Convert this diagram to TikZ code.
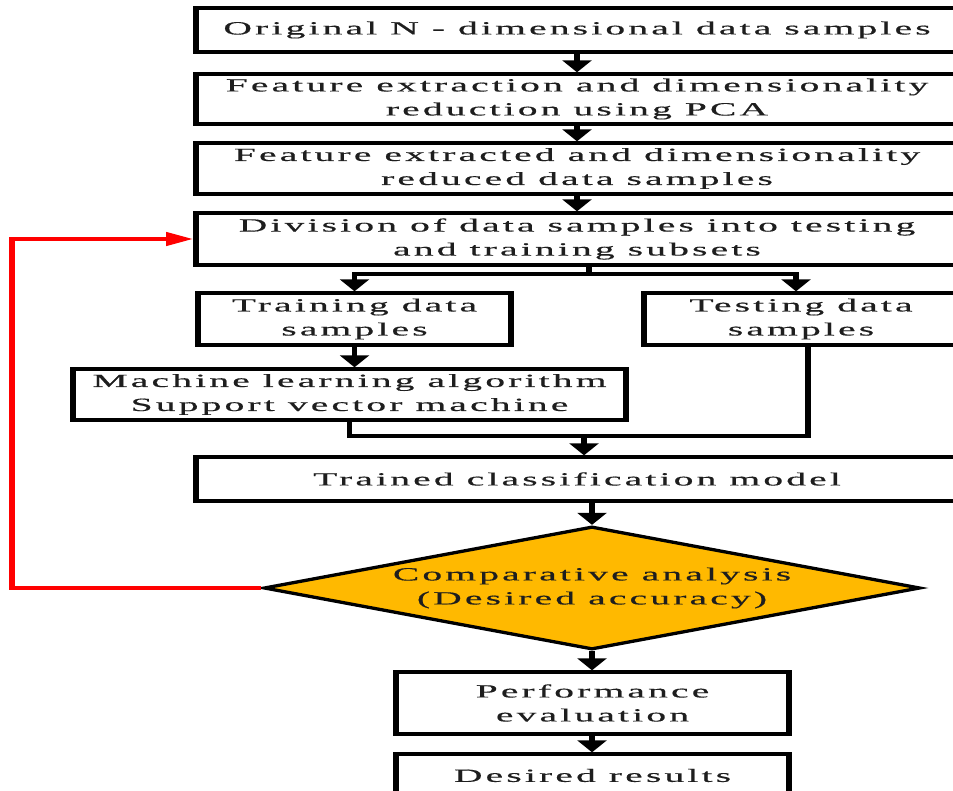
\documentclass[tikz,border=0pt]{standalone}
\usepackage{fontspec}
\setmainfont[FakeStretch=1.25, LetterSpace=10, FakeBold=0.4]{Liberation Serif}
\usetikzlibrary{arrows.meta,shapes.geometric}
\definecolor{decisionfill}{RGB}{255,185,0}
\definecolor{feedbackred}{RGB}{255,0,0}
\definecolor{ink}{RGB}{30,30,30}

\begin{document}
\begin{tikzpicture}[
  stepbox/.style={draw=black, line width=3.2pt, inner sep=0pt, align=center,
    text=ink, font=\fontsize{18.6}{24}\selectfont},
  decision/.style={diamond, draw=black, line width=3.2pt, fill=decisionfill,
    inner sep=1pt, aspect=3.14, minimum width=386.5pt, minimum height=123pt,
    align=center, text=ink, font=\fontsize{18.6}{24}\selectfont},
  link/.style={draw=black, line width=3.2pt},
  arr/.style={link, -{Triangle[width=16.5pt,length=12pt]}},
  feedback/.style={draw=feedbackred, line width=4pt,
    -{Triangle[width=13pt,length=16pt]}}
]
% page frame; the drawing below is widened by the canvas transform
\useasboundingbox (0,0) rectangle (953pt,-791pt);
\begin{scope}[transform canvas={xscale=1.7}, x={(0.588235pt,0)}, y={(0,-1pt)}]

  % process boxes
  \node[stepbox, minimum width=448.24pt, minimum height=44pt] (b1) at (577,30)
    {Original N - dimensional data samples};
  \node[stepbox, minimum width=448.24pt, minimum height=50pt] (b2) at (577,99)
    {Feature extraction and dimensionality\\reduction using PCA};
  \node[stepbox, minimum width=448.24pt, minimum height=51pt] (b3) at (577,168.5)
    {Feature extracted and dimensionality\\reduced data samples};
  \node[stepbox, minimum width=448.24pt, minimum height=52pt] (b4) at (577,239)
    {Division of data samples into testing\\and training subsets};
  \node[stepbox, minimum width=184.12pt, minimum height=52pt] (train) at (354.5,319)
    {Training data\\samples};
  \node[stepbox, minimum width=184.71pt, minimum height=52pt] (test) at (801,319)
    {Testing data\\samples};
  \node[stepbox, minimum width=325.29pt, minimum height=51pt] (ml) at (349.5,394.5)
    {Machine learning algorithm\\Support vector machine};
  \node[stepbox, minimum width=448.24pt, minimum height=44pt] (trained) at (577,479)
    {Trained classification model};
  \node[decision] (dec) at (592,588)
    {Comparative analysis\\(Desired accuracy)};
  \node[stepbox, minimum width=231.18pt, minimum height=62pt] (perf) at (592.5,703)
    {Performance\\evaluation};
  \node[stepbox, minimum width=231.18pt, minimum height=43pt] (res) at (592.5,775.5)
    {Desired results};

  % routing points
  \coordinate (split) at (589,274);
  \coordinate (testin) at (796,0);
  \coordinate (testout) at (808,0);
  \coordinate (merge) at (584,436);
  \coordinate (loopx) at (12,0);

  % main chain
  \draw[arr] (b1.south) -- (b2.north);
  \draw[arr] (b2.south) -- (b3.north);
  \draw[arr] (b3.south) -- (b4.north);

  % split into training and testing subsets
  \draw[link] (b4.south -| split) -- (split);
  \draw[arr] (split) -| (train.north);
  \draw[arr] (split) -| (test.north -| testin);
  \draw[arr] (train.south) -- (train.south |- ml.north);

  % merge into the trained model
  \draw[link] (ml.south) |- (merge);
  \draw[link] (test.south -| testout) |- (merge);
  \draw[arr] (merge) -- (trained.north -| merge);

  % evaluation
  \draw[arr] (dec.north |- trained.south) -- (dec.north);
  \draw[arr] (dec.south) -- (dec.south |- perf.north);
  \draw[arr] (perf.south -| dec.south) -- (res.north -| dec.south);

  % feedback loop
  \draw[feedback] (dec.west) -- (dec.west -| loopx) -- (loopx |- b4.west) -- (b4.west);
\end{scope}
\end{tikzpicture}
\end{document}
